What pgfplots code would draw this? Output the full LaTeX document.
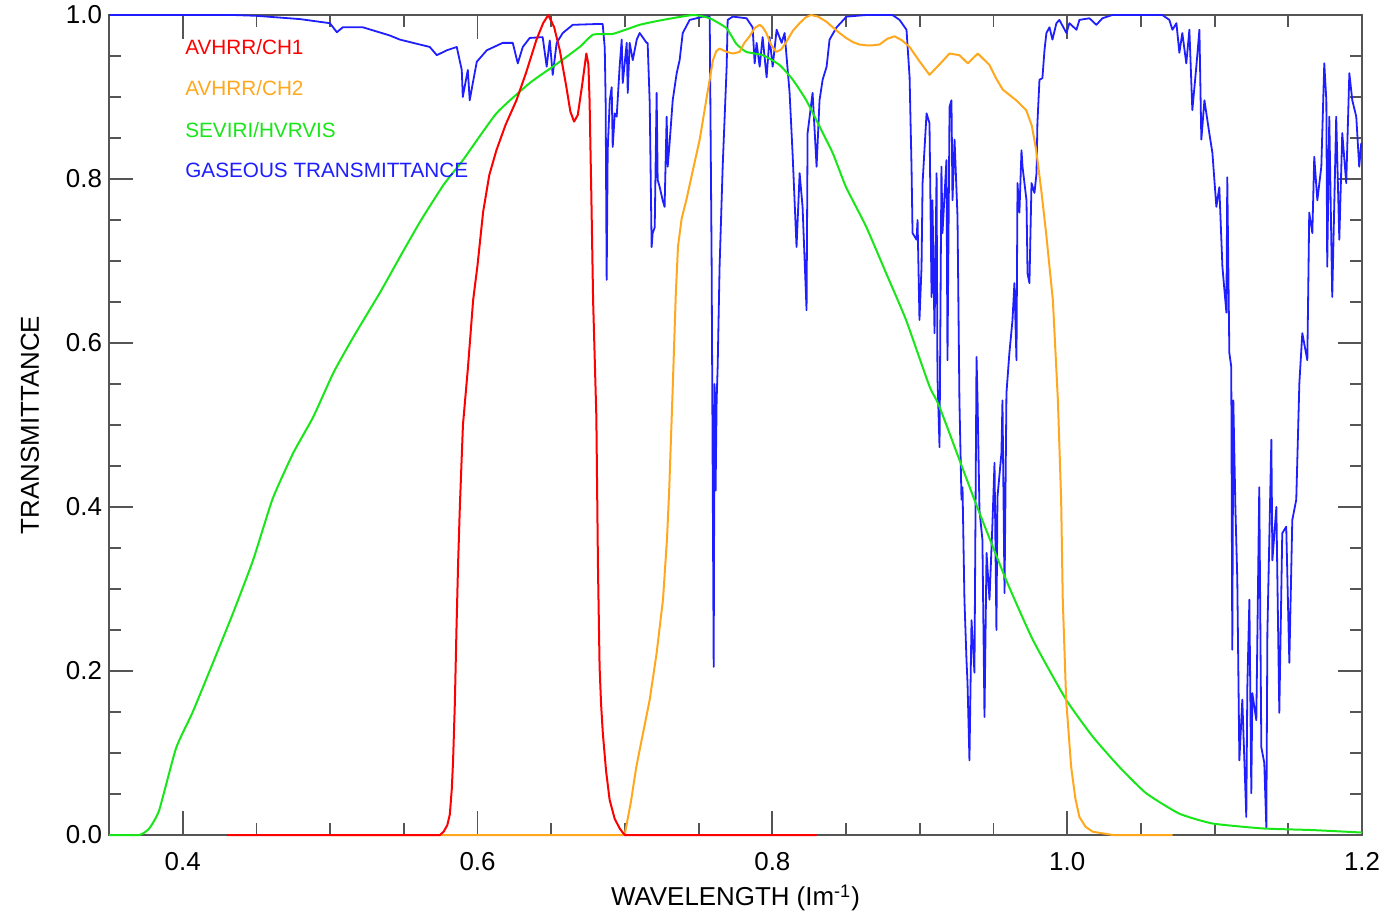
\documentclass[border=0pt]{standalone}
\usepackage{fontspec}
\setmainfont{Liberation Sans}
\usepackage{pgfplots}
\pgfplotsset{compat=1.18}
\definecolor{cred}{RGB}{255,0,0}
\definecolor{corange}{RGB}{255,168,30}
\definecolor{cgreen}{RGB}{25,230,25}
\definecolor{cblue}{RGB}{30,30,255}
\definecolor{cframe}{RGB}{85,85,85}
\begin{document}
\begin{tikzpicture}
\useasboundingbox (0,0) rectangle (696.5bp,458bp);
\begin{axis}[
  at={(54.5bp,40.5bp)}, anchor=south west,
  scale only axis, width=626.5bp, height=410bp,
  xmin=0.35, xmax=1.2, ymin=0, ymax=1.0,
  xtick={0.4,0.6,0.8,1.0,1.2}, ytick={0,0.2,0.4,0.6,0.8,1.0},
  minor tick num=3,
  tick align=inside,
  major tick length=12bp, minor tick length=6bp,
  axis line style={cframe, line width=1bp},
  every tick/.style={cframe, line width=0.9bp},
  tick label style={font=\fontsize{13}{15}\selectfont, /pgf/number format/assume math mode=true},
  xticklabel style={yshift=-5bp, /pgf/number format/.cd, fixed, fixed zerofill, precision=1},
  yticklabel style={/pgf/number format/.cd, fixed, fixed zerofill, precision=1},
  xlabel={WAVELENGTH (Im\textsuperscript{-1})},
  ylabel={TRANSMITTANCE},
  every axis x label/.style={at={(axis description cs:0.5,0)}, anchor=center, yshift=-31.5bp, font=\fontsize{13}{15}\selectfont},
  every axis y label/.style={at={(axis description cs:0,0.5)}, rotate=90, anchor=center, yshift=39.5bp, font=\fontsize{13}{15}\selectfont},
  clip=false,
]
% gaseous transmittance
\addplot[cblue, line width=0.9bp, line join=round] coordinates {
(0.35,1.0)(0.434,1.0)(0.450,0.999)(0.4795,0.995)(0.4998,0.990)(0.5046,0.979)(0.5086,0.985)(0.5222,0.985)(0.5405,0.975)(0.5473,0.970)(0.5676,0.961)(0.5724,0.951)(0.5792,0.957)(0.5859,0.961)(0.5893,0.933)(0.5900,0.900)(0.5934,0.933)(0.5947,0.896)(0.5968,0.917)(0.5995,0.943)(0.6063,0.957)(0.6171,0.966)(0.6239,0.966)(0.6273,0.941)(0.6307,0.961)(0.6354,0.972)(0.6442,0.973)(0.6469,0.937)(0.6490,0.969)(0.6510,0.927)(0.6537,0.966)(0.6578,0.978)(0.6646,0.988)(0.6808,0.989)(0.6849,0.989)(0.6863,0.960)(0.6869,0.896)(0.6876,0.677)(0.6883,0.835)(0.6897,0.896)(0.6910,0.912)(0.6917,0.839)(0.6931,0.880)(0.6944,0.876)(0.6964,0.937)(0.6978,0.970)(0.6985,0.917)(0.7012,0.966)(0.7019,0.905)(0.7032,0.966)(0.7053,0.945)(0.7080,0.970)(0.7100,0.978)(0.7147,0.966)(0.7154,0.966)(0.7168,0.893)(0.7181,0.717)(0.7188,0.734)(0.7202,0.741)(0.7215,0.905)(0.7222,0.799)(0.7236,0.790)(0.7256,0.774)(0.7269,0.766)(0.7283,0.876)(0.7290,0.815)(0.7303,0.844)(0.7324,0.896)(0.7351,0.929)(0.7371,0.945)(0.7392,0.978)(0.7439,0.994)(0.7486,0.996)(0.7527,0.998)(0.7575,0.998)(0.7588,0.70)(0.7595,0.45)(0.7602,0.205)(0.7608,0.55)(0.7615,0.42)(0.7622,0.53)(0.7629,0.571)(0.7642,0.693)(0.7663,0.815)(0.7690,0.937)(0.7697,0.994)(0.7731,0.998)(0.7825,0.996)(0.7866,0.985)(0.7880,0.941)(0.7893,0.966)(0.7914,0.937)(0.7934,0.973)(0.7961,0.924)(0.7981,0.973)(0.8002,0.937)(0.8029,0.982)(0.8063,0.966)(0.8083,0.978)(0.8117,0.905)(0.8137,0.832)(0.8164,0.717)(0.8185,0.807)(0.8205,0.766)(0.8232,0.640)(0.8239,0.856)(0.8273,0.905)(0.8300,0.815)(0.8320,0.896)(0.8341,0.921)(0.8368,0.937)(0.8388,0.970)(0.8436,0.985)(0.8503,0.998)(0.8639,1.0)(0.8815,1.0)(0.8863,0.994)(0.8910,0.982)(0.8931,0.924)(0.8944,0.815)(0.8951,0.734)(0.8978,0.726)(0.8985,0.750)(0.8998,0.628)(0.9012,0.693)(0.9019,0.795)(0.9046,0.880)(0.9066,0.868)(0.9080,0.656)(0.9086,0.774)(0.9100,0.612)(0.9114,0.807)(0.9120,0.559)(0.9134,0.473)(0.9147,0.815)(0.9154,0.734)(0.9181,0.823)(0.9188,0.579)(0.9202,0.888)(0.9215,0.896)(0.9222,0.774)(0.9236,0.848)(0.9256,0.754)(0.9269,0.530)(0.9283,0.409)(0.9290,0.424)(0.9303,0.287)(0.9317,0.213)(0.9324,0.185)(0.9337,0.091)(0.9351,0.262)(0.9371,0.198)(0.9385,0.583)(0.9392,0.530)(0.9405,0.396)(0.9425,0.360)(0.9439,0.144)(0.9453,0.344)(0.9473,0.287)(0.9493,0.380)(0.9507,0.454)(0.9520,0.250)(0.9527,0.412)(0.9554,0.466)(0.9561,0.530)(0.9575,0.295)(0.9588,0.539)(0.9608,0.588)(0.9629,0.628)(0.9642,0.673)(0.9656,0.579)(0.9663,0.795)(0.9676,0.759)(0.9690,0.835)(0.9697,0.815)(0.9724,0.774)(0.9731,0.685)(0.9744,0.673)(0.9758,0.795)(0.9778,0.783)(0.9792,0.807)(0.9798,0.868)(0.9812,0.921)(0.9832,0.923)(0.9846,0.957)(0.9859,0.978)(0.9880,0.985)(0.9900,0.970)(0.9927,0.990)(0.9947,0.994)(0.9995,0.978)(1.0015,0.990)(1.0063,0.982)(1.0083,0.994)(1.0151,0.996)(1.0198,0.988)(1.0239,0.996)(1.0307,1.0)(1.0646,1.0)(1.0693,0.994)(1.0714,0.982)(1.0741,0.990)(1.0761,0.954)(1.0781,0.978)(1.0808,0.941)(1.0829,0.982)(1.0849,0.884)(1.0876,0.937)(1.0897,0.982)(1.0910,0.848)(1.0931,0.896)(1.0964,0.856)(1.0985,0.832)(1.1012,0.766)(1.1032,0.790)(1.1053,0.693)(1.1080,0.637)(1.1086,0.802)(1.1100,0.588)(1.1113,0.571)(1.1120,0.226)(1.1127,0.53)(1.1141,0.40)(1.1154,0.311)(1.1168,0.091)(1.1188,0.165)(1.1215,0.022)(1.1222,0.180)(1.1236,0.287)(1.1249,0.051)(1.1256,0.173)(1.1283,0.140)(1.1303,0.424)(1.1317,0.107)(1.1337,0.088)(1.1351,0.0085)(1.1358,0.246)(1.1385,0.482)(1.1392,0.335)(1.1419,0.400)(1.1439,0.149)(1.1459,0.368)(1.1486,0.376)(1.1507,0.210)(1.1527,0.384)(1.1554,0.409)(1.1575,0.551)(1.1595,0.612)(1.1629,0.579)(1.1642,0.759)(1.1663,0.734)(1.1676,0.827)(1.1697,0.774)(1.1724,0.815)(1.1744,0.941)(1.1758,0.896)(1.1764,0.693)(1.1778,0.876)(1.1798,0.656)(1.1825,0.876)(1.1846,0.726)(1.1866,0.856)(1.1893,0.795)(1.1914,0.929)(1.1934,0.896)(1.1961,0.876)(1.1981,0.815)(1.1995,0.844)
};
% SEVIRI HRV
\addplot[cgreen, line width=1bp, smooth, tension=0.3] coordinates {
(0.35,0)(0.3705,0)(0.3773,0.008)(0.384,0.03)(0.3955,0.106)(0.4068,0.15)(0.4205,0.21)(0.434,0.27)(0.4477,0.335)(0.461,0.41)(0.475,0.466)(0.4886,0.51)(0.5023,0.564)(0.516,0.608)(0.534,0.662)(0.5477,0.706)(0.5614,0.749)(0.577,0.793)(0.5901,0.823)(0.6128,0.880)(0.6354,0.917)(0.6535,0.94)(0.6693,0.961)(0.6784,0.976)(0.6919,0.977)(0.71,0.988)(0.7258,0.994)(0.7462,1.0)(0.7575,0.996)(0.7688,0.984)(0.7755,0.965)(0.7823,0.955)(0.7936,0.951)(0.8049,0.939)(0.8139,0.921)(0.823,0.896)(0.832,0.864)(0.8411,0.831)(0.85,0.79)(0.8636,0.742)(0.8772,0.685)(0.8907,0.628)(0.9066,0.547)(0.9134,0.522)(0.9383,0.403)(0.9586,0.311)(0.9767,0.238)(0.9993,0.165)(1.0173,0.12)(1.0354,0.083)(1.0535,0.051)(1.0761,0.026)(1.0987,0.014)(1.1326,0.008)(1.1665,0.006)(1.2,0.003)
};
% AVHRR CH2
\addplot[corange, line width=1bp, line join=round] coordinates {
(0.5,0)(0.6998,0)(0.7040,0.040)(0.7077,0.083)(0.7120,0.122)(0.7168,0.165)(0.7215,0.222)(0.7258,0.287)(0.7285,0.36)(0.7300,0.42)(0.7325,0.55)(0.7345,0.66)(0.736,0.718)(0.7385,0.752)(0.7416,0.774)(0.7460,0.810)(0.7507,0.848)(0.7555,0.900)(0.7597,0.945)(0.7620,0.956)(0.7642,0.959)(0.7690,0.955)(0.7733,0.953)(0.7778,0.955)(0.7810,0.966)(0.7846,0.974)(0.7880,0.984)(0.7914,0.988)(0.7935,0.985)(0.7959,0.978)(0.7990,0.964)(0.8026,0.955)(0.8060,0.958)(0.8094,0.967)(0.8140,0.981)(0.8185,0.990)(0.8225,0.997)(0.8263,1.0)(0.8310,0.998)(0.8365,0.992)(0.8410,0.985)(0.8456,0.978)(0.8500,0.972)(0.8546,0.967)(0.8590,0.964)(0.8636,0.963)(0.8680,0.963)(0.8727,0.964)(0.8780,0.971)(0.8829,0.974)(0.8880,0.969)(0.8931,0.961)(0.9000,0.943)(0.9066,0.927)(0.9135,0.940)(0.9202,0.953)(0.9269,0.951)(0.9326,0.941)(0.9394,0.953)(0.9473,0.939)(0.9520,0.922)(0.9563,0.909)(0.9654,0.896)(0.9722,0.884)(0.9760,0.865)(0.979,0.835)(0.9825,0.785)(0.9857,0.734)(0.9903,0.652)(0.9937,0.530)(0.9959,0.409)(0.997,0.287)(0.9993,0.165)(1.0027,0.083)(1.0055,0.045)(1.0083,0.022)(1.0125,0.010)(1.0173,0.004)(1.031,0)(1.0716,0)
};
% AVHRR CH1
\addplot[cred, line width=1bp, line join=round] coordinates {
(0.43,0)(0.5745,0)(0.5770,0.004)(0.5795,0.012)(0.5812,0.025)(0.5825,0.055)(0.5834,0.09)(0.5846,0.16)(0.5857,0.25)(0.5868,0.33)(0.588,0.40)(0.5901,0.50)(0.5935,0.57)(0.597,0.652)(0.6,0.695)(0.6038,0.760)(0.6080,0.805)(0.6128,0.835)(0.6190,0.866)(0.6264,0.896)(0.6330,0.930)(0.640,0.970)(0.6445,0.990)(0.648,1.0)(0.6520,0.985)(0.6558,0.957)(0.6600,0.915)(0.6630,0.882)(0.6655,0.870)(0.6680,0.878)(0.6710,0.915)(0.6738,0.953)(0.6752,0.940)(0.676,0.896)(0.6772,0.780)(0.6784,0.652)(0.6806,0.51)(0.6817,0.327)(0.6828,0.205)(0.6838,0.160)(0.685,0.124)(0.6872,0.078)(0.6896,0.043)(0.6930,0.020)(0.6964,0.008)(0.6998,0)(0.83,0)
};
\node[anchor=west, inner sep=0pt, text=cred, font=\fontsize{10.4}{12}\selectfont] at (axis cs:0.4015,0.961) {AVHRR/CH1};
\node[anchor=west, inner sep=0pt, text=corange, font=\fontsize{10.4}{12}\selectfont] at (axis cs:0.4015,0.911) {AVHRR/CH2};
\node[anchor=west, inner sep=0pt, text=cgreen, font=\fontsize{10.4}{12}\selectfont] at (axis cs:0.4015,0.860) {SEVIRI/HVRVIS};
\node[anchor=west, inner sep=0pt, text=cblue, font=\fontsize{10.4}{12}\selectfont] at (axis cs:0.4015,0.811) {GASEOUS TRANSMITTANCE};
\end{axis}
\end{tikzpicture}
\end{document}
